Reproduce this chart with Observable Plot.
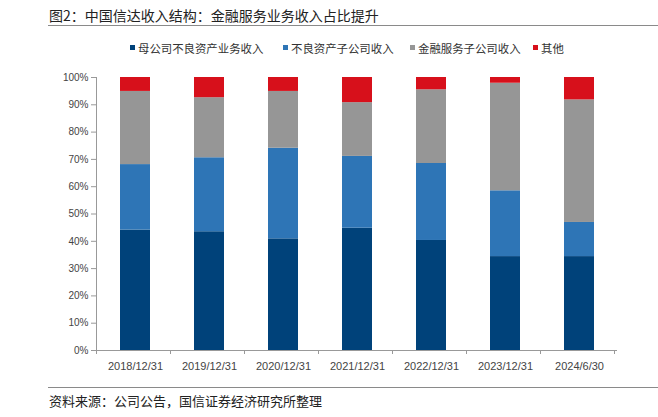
<!DOCTYPE html>
<html>
<head>
<meta charset="utf-8">
<script src="https://cdn.jsdelivr.net/npm/d3@7"></script>
<script src="https://cdn.jsdelivr.net/npm/@observablehq/plot@0.6"></script>
<style>
  body { margin: 0; background: #fff; }
  #wrap { position: relative; width: 658px; height: 417px; overflow: hidden; font-family: "Noto Sans CJK SC", "Liberation Sans", sans-serif; color: #222; }
  #title { position: absolute; left: 49px; top: 5px; font-size: 14px; white-space: nowrap; }
  #topline { position: absolute; left: 48px; top: 25px; width: 610px; height: 1px; background: #8a8a8a; }
  #legend { position: absolute; left: 0; top: 40px; width: 658px; font-size: 11.4px; color: #333; white-space: nowrap; }
  .li { position: absolute; top: 0; }
  .sw { display: inline-block; width: 5px; height: 5px; margin-right: 3px; vertical-align: middle; position: relative; top: -2px; }
  #plot { position: absolute; left: 0; top: 62px; }
  #botline { position: absolute; left: 48px; top: 387px; width: 610px; height: 1px; background: #8a8a8a; }
  #source { position: absolute; left: 49px; top: 391px; font-size: 13px; white-space: nowrap; }
</style>
</head>
<body>
<div id="wrap">
  <div id="title">图2：中国信达收入结构：金融服务业务收入占比提升</div>
  <div id="topline"></div>
  <div id="legend"></div>
  <div id="plot"></div>
  <div id="botline"></div>
  <div id="source">资料来源：公司公告，国信证券经济研究所整理</div>
</div>
<script>
const categories = ["2018/12/31", "2019/12/31", "2020/12/31", "2021/12/31", "2022/12/31", "2023/12/31", "2024/6/30"];
const seriesNames = ["母公司不良资产业务收入", "不良资产子公司收入", "金融服务子公司收入", "其他"];
const seriesColors = ["#00427a", "#2e75b6", "#969696", "#d7101b"];
const parentNPA = [44.1, 43.5, 40.9, 44.8, 40.3, 34.4, 34.4];
const npaSubs   = [24.0, 27.1, 33.2, 26.3, 28.2, 24.1, 12.5];
const finSubs   = [26.8, 22.0, 20.8, 19.7, 27.0, 39.4, 44.9];
const other     = [5.1, 7.4, 5.1, 9.2, 4.5, 2.1, 8.2];
const yTicks = [0, 0.1, 0.2, 0.3, 0.4, 0.5, 0.6, 0.7, 0.8, 0.9, 1.0];

const seriesValues = [parentNPA, npaSubs, finSubs, other];
const data = [];
categories.forEach((c, i) => {
  seriesNames.forEach((s, j) => data.push({cat: c, series: s, value: seriesValues[j][i] / 100}));
});

// legend
const legendX = [130, 283, 410, 533];
const leg = document.getElementById("legend");
seriesNames.forEach((s, j) => {
  const el = document.createElement("span");
  el.className = "li";
  el.style.left = legendX[j] + "px";
  el.innerHTML = `<span class="sw" style="background:${seriesColors[j]}"></span>${s}`;
  leg.appendChild(el);
});

const W = 658, H = 318, mL = 96, mR = 41, mT = 15, mB = 30;
const chart = Plot.plot({
  width: W, height: H,
  marginLeft: mL, marginRight: mR, marginTop: mT, marginBottom: mB,
  style: { fontFamily: "'Liberation Sans', Arial, sans-serif", background: "#fff", color: "#333" },
  x: { domain: categories, paddingInner: 0.6, paddingOuter: 0.3, label: null },
  y: { domain: [0, 1], label: null },
  color: { domain: seriesNames, range: seriesColors },
  marks: [
    Plot.barY(data, Plot.stackY({ order: seriesNames, x: "cat", y: "value", fill: "series" })),
    Plot.axisY(yTicks, { tickFormat: d => Math.round(d * 100) + "%", tickSize: 5, tickPadding: 3, fontSize: 10, stroke: "#999", fill: "#444" }),
    Plot.axisX({ tickSize: 0, tickPadding: 12, fontSize: 11, fill: "#444" }),
    Plot.ruleY([0], { stroke: "#999" })
  ]
});
document.getElementById("plot").appendChild(chart);

// axis lines and band-boundary ticks
const svg = d3.select(chart);
const xs = chart.scale("x");
const ys = chart.scale("y");
svg.append("line").attr("x1", mL + 0.5).attr("x2", mL + 0.5).attr("y1", ys.apply(1)).attr("y2", ys.apply(0)).attr("stroke", "#999");
const step = xs.step;
const x0 = xs.range[0];
for (let i = 0; i <= categories.length; i++) {
  const px = Math.round(x0 + i * step) + 0.5;
  svg.append("line").attr("x1", px).attr("x2", px).attr("y1", ys.apply(0)).attr("y2", ys.apply(0) + 4).attr("stroke", "#999");
}
</script>
</body>
</html>
